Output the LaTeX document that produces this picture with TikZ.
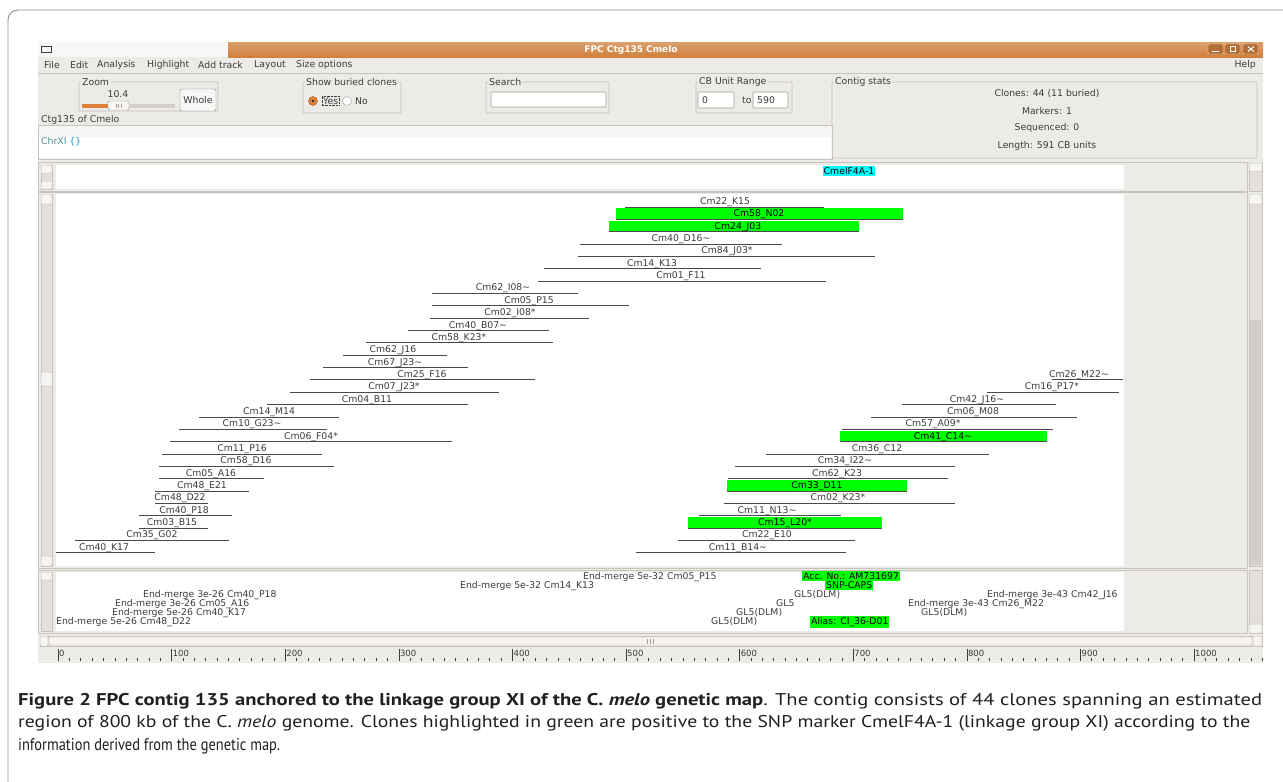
\documentclass[tikz,border=0pt]{standalone}
\usepackage{fontspec}
\setmainfont{DejaVu Sans}
\newfontfamily\capfont[FakeStretch=0.85]{PT Sans}
\usetikzlibrary{positioning}
\definecolor{guibg}{HTML}{EDEBE8}
\definecolor{guiline}{HTML}{C8C3BC}
\definecolor{fieldline}{HTML}{A19C95}
\definecolor{guitext}{HTML}{3C3C3C}
\definecolor{lineclr}{HTML}{4A4A4A}
\definecolor{titleorange}{HTML}{D0803C}
\definecolor{sliderorange}{HTML}{E08038}
\definecolor{clonegreen}{HTML}{00FF00}
\definecolor{markcyan}{HTML}{00FFFF}
\definecolor{sbtrough}{HTML}{E3DFDA}
\definecolor{sbthumb}{HTML}{D3CEC7}
\definecolor{framegray}{HTML}{8C8C8C}
\definecolor{chrteal}{HTML}{4D8C96}
\definecolor{bracecyan}{HTML}{1AA6C4}
\definecolor{captext}{HTML}{231F20}

\begin{document}
\begin{tikzpicture}[x=1pt,y=-1pt,
    gui/.style={font=\fontsize{9.3}{10}\selectfont, text=guitext, inner sep=0pt},
    framebox/.style={draw=guiline, line width=0.8pt, rounded corners=1pt},
    framelab/.style={gui, fill=guibg, inner xsep=1pt, anchor=west},
    fieldbox/.style={fill=white, draw=fieldline, line width=0.6pt, rounded corners=1pt},
    cloneline/.style={draw=lineclr, line width=0.9pt},
    greenbar/.style={fill=clonegreen},
    hilite/.style={gui, text=black, fill=clonegreen, inner xsep=1pt, inner ysep=1.5pt},
    sbar/.style={fill=sbtrough, draw=guiline, line width=0.5pt},
    sbtn/.style={fill=guibg!50!white, draw=guiline, line width=0.5pt, rounded corners=1pt},
    rulertick/.style={draw=guitext, line width=0.6pt},
    capline/.style={anchor=base west, inner sep=0pt, text=captext,
        font=\capfont\fontsize{17}{19}\selectfont}]

    \useasboundingbox (0,0) rectangle (1283,782);
    \fill[white] (0,0) rectangle (1283,782);

    % figure frame (top and left only)
    \draw[framegray, line width=0.9pt, rounded corners=10pt] (8,782) -- (8,10) -- (1283,10);

    % window background
    \fill[guibg] (38,42) rectangle (1263,663);

    % title bar
    \fill[guibg!40!white] (38,42) rectangle (228,57);
    \shade[top color=titleorange!75!white, bottom color=titleorange] (228,42) rectangle (1263,57);
    \draw[guitext, line width=0.6pt] (41,46) rectangle (51,52);
    \node[gui, text=white, font=\bfseries\fontsize{9}{10}\selectfont] (title) at (631,50) {FPC Ctg135 Cmelo};
    \foreach \bx/\nm in {1208/bmin,1225/bmax,1243/bclose} {
        \draw[fill=titleorange!85!black, draw=white!70!titleorange, rounded corners=1pt]
            (\bx,44) rectangle ++(15,10);
    }
    \draw[white, line width=1pt] (1212,51.5) -- (1219,51.5);
    \draw[white, line width=0.7pt] (1230,46.5) rectangle (1235,51.5);
    \draw[white, line width=1pt] (1248,46.5) -- (1254,51.5) (1248,51.5) -- (1254,46.5);

    % menu bar
    \draw[guiline] (38,73) -- (1263,73);
    \foreach \item/\mx/\nm in {File/44/mfile, Edit/70/medit, Analysis/97/manalysis,
        Highlight/147/mhighlight, Add track/198/maddtrack, Layout/254/mlayout,
        Size options/296/msize} {
        \node[gui, anchor=west] (\nm) at (\mx,65) {\item};
    }
    \node[gui, anchor=east] (mhelp) at (1256,65) {Help};

    % Zoom frame
    \draw[framebox] (79,82) rectangle (218,111);
    \node[framelab] (zoomlab) at (81,82) {Zoom};
    \node[gui] (zoomval) at (118,94) {10.4};
    \fill[sbthumb] (82,104) rectangle (175,108);
    \fill[sliderorange] (82,104) rectangle (108,108);
    \draw[fill=guibg!40!white, draw=fieldline, rounded corners=1.5pt] (108,101) rectangle (129,110);
    \foreach \gx in {116,118.5,121} {\draw[fieldline, line width=0.4pt] (\gx,103.5) -- (\gx,107.5);}
    \draw[fill=guibg!40!white, draw=fieldline!80!black, rounded corners=2pt] (180,89) rectangle (216,111);
    \node[gui] (whole) at (198,100) {Whole};

    % Show buried clones frame
    \draw[framebox] (303,82) rectangle (401,113);
    \node[framelab] (buriedlab) at (305,82) {Show buried clones};
    \draw[fill=sliderorange, draw=sliderorange!70!black] (313,101) circle (4.5);
    \fill[black!80] (313,101) circle (1.4);
    \node[gui, anchor=west] (yes) at (323,101) {Yes};
    \draw[guitext, densely dotted, line width=0.4pt] (yes.south west) ++(-1,1) rectangle ([shift={(1,-1)}]yes.north east);
    \draw[fill=white, draw=fieldline] (347,101) circle (4.5);
    \node[gui, anchor=west] (no) at (355,101) {No};

    % Search frame
    \draw[framebox] (486,82) rectangle (609,113);
    \node[framelab] (searchlab) at (488,82) {Search};
    \draw[fieldbox] (491,92) rectangle (606,107);

    % CB unit range frame
    \draw[framebox] (696,82) rectangle (792,113);
    \node[framelab] (rangelab) at (698,82) {CB Unit Range};
    \draw[fieldbox] (698,92) rectangle (734,108);
    \node[gui, anchor=west] (rangefrom) at (702,100) {0};
    \node[gui, anchor=west] (rangeto) at (742,100) {to};
    \draw[fieldbox] (753,92) rectangle (788,108);
    \node[gui, anchor=west] (rangeend) at (757,100) {590};

    % Contig stats frame
    \draw[framebox] (832,82) rectangle (1257,158);
    \node[framelab] (statslab) at (834,82) {Contig stats};
    \node[gui] (stclones) at (1047,94) {Clones: 44 (11 buried)};
    \node[gui] (stmarkers) at (1047,111) {Markers: 1};
    \node[gui] (stseq) at (1047,128) {Sequenced: 0};
    \node[gui] (stlength) at (1047,146) {Length: 591 CB units};

    % contig tab and remarks box
    \node[gui, anchor=west] (ctglab) at (41,120) {Ctg135 of Cmelo};
    \draw[guiline, fill=guibg!50!white] (38,125) rectangle (832,159);
    \fill[white] (39,137) rectangle (831,158);
    \node[gui, anchor=west] (chr) at (41,142) {\textcolor{chrteal}{ChrXI} \textcolor{bracecyan}{\{\}}};

    % marker track
    \draw[guiline, fill=guibg] (38,162) rectangle (1247,191);
    \fill[white] (56,165) rectangle (1124,189);
    \draw[sbar] (41,165) rectangle (52,189);
    \draw[sbtn] (41,165) rectangle (52,173);
    \draw[sbtn] (41,181) rectangle (52,189);
    \draw[sbar] (1249,163) rectangle (1262,191);
    \draw[sbtn] (1249,163) rectangle (1262,171);
    \node[gui, text=black, fill=markcyan, inner xsep=0.5pt, inner ysep=1.5pt] (marker) at (849,171) {CmelF4A-1};

    % clone track
    \draw[guiline, fill=guibg] (38,192) rectangle (1247,568);
    \fill[white] (56,194) rectangle (1124,566);
    \draw[sbar] (41,194) rectangle (52,566);
    \draw[sbtn] (41,194) rectangle (52,204);
    \draw[sbtn] (41,372) rectangle (52,386);
    \draw[sbtn] (41,556) rectangle (52,566);
    \draw[sbar] (1249,194) rectangle (1262,566);
    \draw[sbtn] (1249,194) rectangle (1262,204);
    \fill[sbthumb] (1250,320) rectangle (1261,565);

    % left chain of clones
    \foreach \lab/\row/\xa/\xb/\xl [evaluate=\row as \yy using 207+12.35*\row] in {
        Cm22\_K15/0/625/824/725,
        Cm40\_D16\textasciitilde/3/580/782/681,
        Cm84\_J03*/4/578/875/727,
        Cm14\_K13/5/544/761/652,
        Cm01\_F11/6/538/826/681,
        Cm62\_I08\textasciitilde/7/432/578/503,
        Cm05\_P15/8/432/629/529,
        Cm02\_I08*/9/430/589/510,
        Cm40\_B07\textasciitilde/10/408/549/478,
        Cm58\_K23*/11/366/553/459,
        Cm62\_J16/12/343/447/393,
        Cm67\_J23\textasciitilde/13/323/468/395,
        Cm25\_F16/14/310/535/422,
        Cm07\_J23*/15/290/499/394,
        Cm04\_B11/16/267/468/367,
        Cm14\_M14/17/199/339/269,
        Cm10\_G23\textasciitilde/18/179/327/252,
        Cm06\_F04*/19/170/452/311,
        Cm11\_P16/20/162/322/242,
        Cm58\_D16/21/159/334/246,
        Cm05\_A16/22/159/264/211,
        Cm48\_E21/23/155/249/202,
        Cm48\_D22/24/155/208/180,
        Cm40\_P18/25/139/232/184,
        Cm03\_B15/26/139/208/172,
        Cm35\_G02/27/75/229/152,
        Cm40\_K17/28/56/155/104} {
        \draw[cloneline] (\xa,\yy) -- (\xb,\yy);
        \node[gui, anchor=base] (l\row) at (\xl,\yy-2.5) {\lab};
    }

    % right chain of clones
    \foreach \lab/\row/\xa/\xb/\xl [evaluate=\row as \yy using 207+12.35*\row] in {
        Cm26\_M22\textasciitilde/14/1052/1123/1079,
        Cm16\_P17*/15/987/1119/1052,
        Cm42\_J16\textasciitilde/16/902/1056/977,
        Cm06\_M08/17/871/1077/973,
        Cm57\_A09*/18/842/1053/933,
        Cm36\_C12/20/766/989/877,
        Cm34\_I22\textasciitilde/21/735/955/845,
        Cm62\_K23/22/728/948/837,
        Cm02\_K23*/24/724/955/838,
        Cm11\_N13\textasciitilde/25/699/841/767,
        Cm22\_E10/27/678/855/767,
        Cm11\_B14\textasciitilde/28/636/846/738} {
        \draw[cloneline] (\xa,\yy) -- (\xb,\yy);
        \node[gui, anchor=base] (r\row) at (\xl,\yy-2.5) {\lab};
    }

    % clones positive to the marker
    \foreach \lab/\row/\xa/\xb/\xl [evaluate=\row as \yy using 207+12.35*\row] in {
        Cm58\_N02/1/616/903/759,
        Cm24\_J03/2/609/859/738,
        Cm41\_C14\textasciitilde/19/840/1047/943,
        Cm33\_D11/23/727/907/817,
        Cm15\_L20*/26/688/882/785} {
        \fill[greenbar] (\xa,\yy-11) rectangle (\xb,\yy);
        \draw[cloneline] (\xa,\yy) -- (\xb,\yy);
        \node[gui, text=black, anchor=base] (g\row) at (\xl,\yy-2.5) {\lab};
    }

    % marker remarks track
    \draw[guiline, fill=guibg] (38,570) rectangle (1247,633);
    \fill[white] (56,572) rectangle (1124,631);
    \draw[sbar] (41,572) rectangle (52,631);
    \draw[sbtn] (41,572) rectangle (52,580);
    \draw[sbar] (1249,570) rectangle (1262,633);
    \draw[sbtn] (1249,624) rectangle (1262,633);
    \foreach \txt/\tx/\ty/\nm in {
        End-merge 5e-32 Cm05\_P15/583/576/em1,
        End-merge 5e-32 Cm14\_K13/460/585/em2,
        End-merge 3e-26 Cm40\_P18/143/594/em3,
        End-merge 3e-26 Cm05\_A16/115/603/em4,
        End-merge 5e-26 Cm40\_K17/112/612/em5,
        End-merge 5e-26 Cm48\_D22/56/621/em6,
        GL5(DLM)/794/594/gl1,
        GL5/776/603/gl2,
        GL5(DLM)/736/612/gl3,
        GL5(DLM)/711/621/gl4,
        End-merge 3e-43 Cm42\_J16/987/594/em7,
        End-merge 3e-43 Cm26\_M22/908/603/em8,
        GL5(DLM)/921/612/gl5} {
        \node[gui, anchor=base west] (\nm) at (\tx,\ty+3.3) {\txt};
    }
    \node[hilite, anchor=base west] (acc) at (802,579.3) {Acc. No.: AM731697};
    \node[hilite, anchor=base west] (snp) at (825,588.3) {SNP-CAPS};
    \node[hilite, anchor=base west] (alias) at (810,624.3) {Alias: CI\_36-D01};

    % horizontal scrollbar
    \draw[sbar] (40,636) rectangle (1262,646);
    \draw[sbtn] (40,636) rectangle (48,646);
    \draw[sbtn] (1253,636) rectangle (1262,646);
    \draw[fill=guibg!60!white, draw=guiline, rounded corners=1pt] (49,637) rectangle (1252,645);
    \foreach \gx in {647,650,653} {\draw[guiline!80!black, line width=0.4pt] (\gx,638.5) -- (\gx,643.5);}

    % ruler
    \foreach \u in {10,20,...,1060} {
        \draw[rulertick] ({58+1.136*\u},658) -- ({58+1.136*\u},661);
    }
    \foreach \u in {0,100,...,1000} {
        \draw[rulertick] ({58+1.136*\u},649) -- ({58+1.136*\u},661);
        \node[gui, font=\fontsize{8.5}{9}\selectfont, anchor=west] (rl\u) at ({59+1.136*\u},653.5) {\u};
    }

    % caption
    \node[capline] (cap1) at (18,705) {\resizebox{1244pt}{\height}{\textbf{Figure 2 FPC contig 135 anchored to the linkage group XI of the C. \textit{melo} genetic map}. The contig consists of 44 clones spanning an estimated}};
    \node[capline] (cap2) at (18,727) {\resizebox{1232pt}{\height}{region of 800 kb of the C. \textit{melo} genome. Clones highlighted in green are positive to the SNP marker CmelF4A-1 (linkage group XI) according to the}};
    \node[capline] (cap3) at (18,750) {information derived from the genetic map.};
\end{tikzpicture}
\end{document}
